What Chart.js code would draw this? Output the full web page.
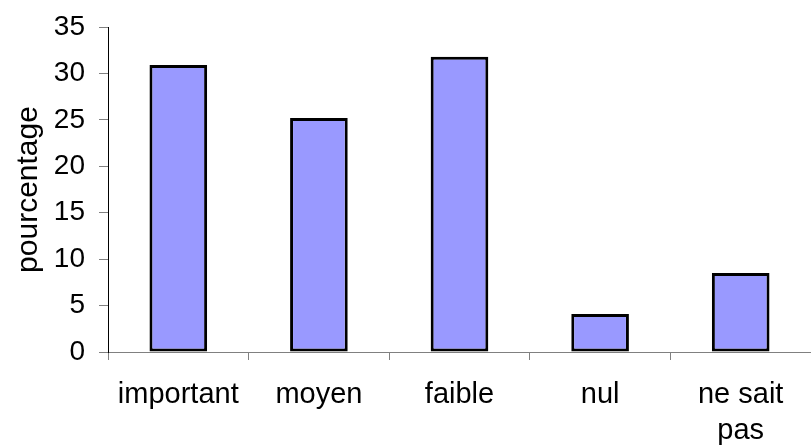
<!DOCTYPE html>
<html>
<head>
<meta charset="utf-8">
<script src="https://cdn.jsdelivr.net/npm/chart.js@4/dist/chart.umd.min.js"></script>
<style>
  html, body { margin: 0; padding: 0; background: #fff; }
  #wrap { width: 811px; height: 448px; }
</style>
</head>
<body>
<div id="wrap"><canvas id="chart" width="811" height="448"></canvas></div>
<script>
// categories and values
const categories = ['important', 'moyen', 'faible', 'nul', ['ne sait', 'pas']];
const percentages = [30.9, 25.2, 31.8, 4.1, 8.5];
const yTicks = [0, 5, 10, 15, 20, 25, 30, 35];

const family = "'Liberation Sans', Arial, sans-serif";

new Chart(document.getElementById('chart'), {
    type: 'bar',
    data: {
        labels: categories,
        datasets: [{
            data: percentages,
            backgroundColor: '#9999ff',
            borderColor: '#000000',
            borderWidth: 3,
            borderSkipped: false,
            categoryPercentage: 1,
            barPercentage: 0.41
        }]
    },
    options: {
        responsive: false,
        animation: false,
        layout: { padding: { top: 27, right: 0, bottom: 0, left: 12 } },
        plugins: {
            legend: { display: false },
            tooltip: { enabled: false }
        },
        scales: {
            x: {
                // fixed height so the plot bottom sits where the original does
                afterFit: (axis) => { axis.height = 96; },
                grid: {
                    drawOnChartArea: false,
                    drawTicks: true,
                    tickLength: 8,
                    color: '#808080',
                    offset: true
                },
                border: { color: '#808080', width: 1 },
                ticks: {
                    color: '#000',
                    font: { family, size: 29, lineHeight: 1.25 },
                    padding: 17,
                    maxRotation: 0,
                    autoSkip: false
                }
            },
            y: {
                min: 0,
                max: 35,
                afterBuildTicks: (axis) => { axis.ticks = yTicks.map(v => ({ value: v })); },
                afterFit: (axis) => {
                    axis.width = 96;
                    axis.paddingTop = 0;
                    axis.paddingBottom = 0;
                },
                grid: {
                    drawOnChartArea: false,
                    drawTicks: true,
                    tickLength: 9,
                    color: '#808080'
                },
                border: { color: '#000', width: 1 },
                ticks: {
                    color: '#000',
                    font: { family, size: 28 },
                    padding: 14
                },
                title: {
                    display: true,
                    text: 'pourcentage',
                    color: '#000',
                    font: { family, size: 30, lineHeight: 1.1 },
                    padding: { top: 0, bottom: 6 }
                }
            }
        }
    }
});
</script>
</body>
</html>
